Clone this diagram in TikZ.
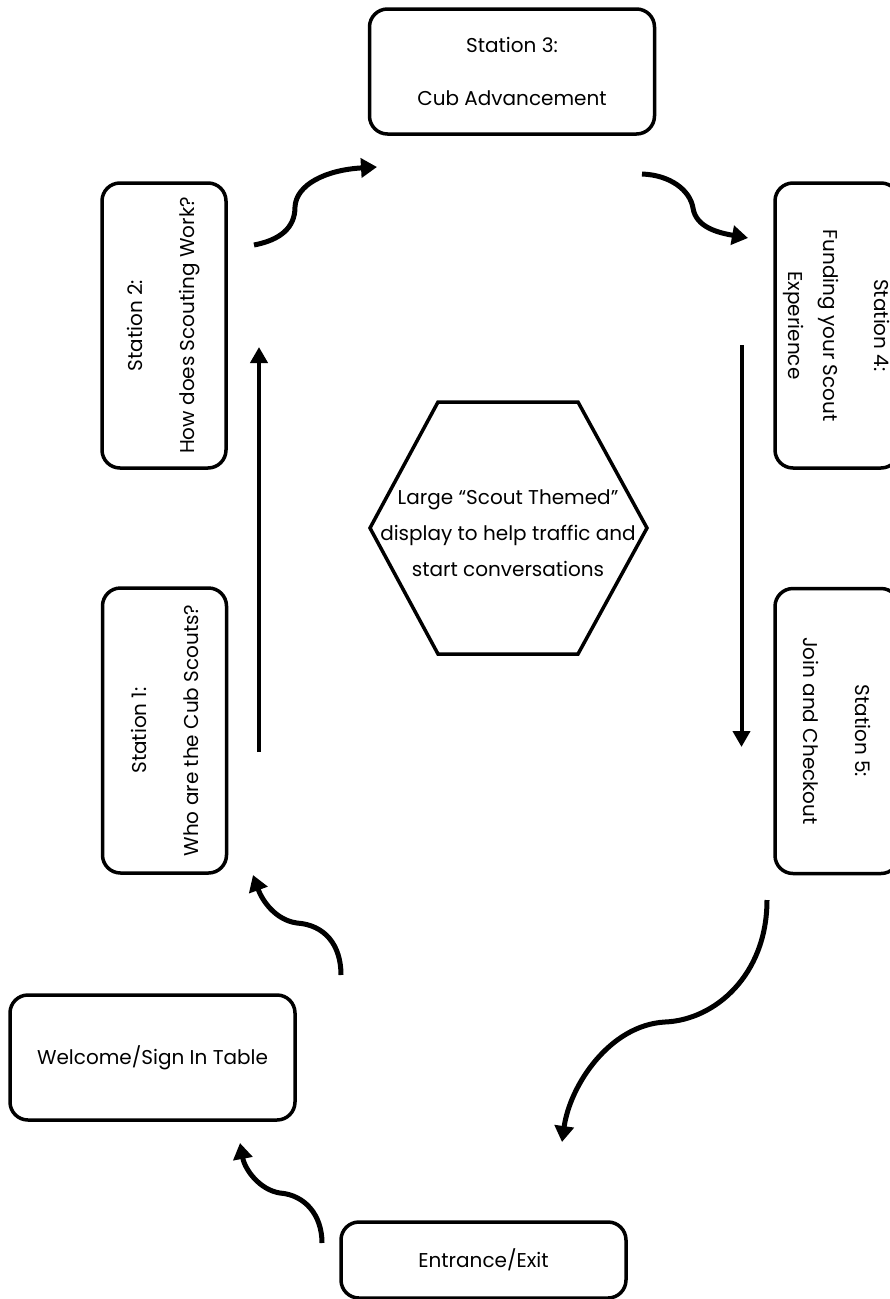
\documentclass[tikz,border=0pt]{standalone}
\usepackage{fontspec}
\setmainfont{Poppins}
\usetikzlibrary{arrows.meta, positioning}

\begin{document}
\begin{tikzpicture}[x=1pt, y=-1pt,
  station/.style={draw, line width=3.5pt, rounded corners=18pt, align=center,
    inner sep=0pt, font=\fontsize{20}{35}\selectfont},
  upright/.style={station, minimum width=285pt, minimum height=125pt},
  sideways/.style={station, minimum width=285pt, minimum height=124pt},
  flow/.style={line width=5pt, -{Triangle[length=16pt, width=19pt]}},
  straight/.style={line width=4pt, -{Triangle[length=16pt, width=17pt]}}]
  \useasboundingbox (0,0) rectangle (890,1299);

  % stations
  \node[upright] (station3) at (512,71.5) {Station 3:\\[18pt]Cub Advancement};
  \node[sideways, rotate=90] (station2) at (164,325.5) {Station 2:\\[17pt]How does Scouting Work?};
  \node[sideways, rotate=90] (station1) at (164.5,730.5) {Station 1:\\[17pt]Who are the Cub Scouts?};
  \node[sideways, rotate=-90] (station4) at (837,325.5) {Station 4:\\[16pt]Funding your Scout\\Experience};
  \node[sideways, rotate=-90] (station5) at (837,731) {Station 5:\\[17pt]Join and Checkout};
  \node[upright] (welcome) at (152.5,1057.5) {Welcome/Sign In Table};
  \node[upright, minimum height=76pt] (entrance) at (483.5,1260) {Entrance/Exit};

  % centre display
  \node[align=center, font=\fontsize{20}{36}\selectfont] (display) at (508,533)
    {Large “Scout Themed”\\display to help traffic and\\start conversations};
  \draw[line width=3.5pt] (438,402) -- (578,402) -- (647,528) -- (578,654)
    -- (438,654) -- (370,528) -- cycle;

  % arrow ends
  \coordinate (s2out) at (254,245);
  \coordinate (s3in) at (377,167);
  \coordinate (s3out) at (642,174);
  \coordinate (s4in) at (748,238);
  \coordinate (s4out) at (741.5,345);
  \coordinate (s5in) at (741.5,747);
  \coordinate (s5out) at (767,900);
  \coordinate (exitin) at (562,1142);
  \coordinate (entryout) at (322,1243);
  \coordinate (welcomein) at (240,1143);
  \coordinate (welcomeout) at (341,975);
  \coordinate (s1in) at (253,875);
  \coordinate (s1out) at (259,752);
  \coordinate (s2in) at (259,347);

  \draw[flow] (s2out) .. controls (280,240) and (295,228) .. (295,207)
    .. controls (296,185) and (325,170) .. (s3in);
  \draw[flow] (s3out) .. controls (670,175) and (690,190) .. (693,208)
    .. controls (696,228) and (720,233) .. (s4in);
  \draw[straight] (s4out) -- (s5in);
  \draw[flow] (s5out) .. controls (767,975) and (715,1020) .. (665,1022)
    .. controls (610,1025) and (570,1085) .. (exitin);
  \draw[flow] (entryout) .. controls (322,1215) and (305,1195) .. (280,1193)
    .. controls (260,1190) and (245,1170) .. (welcomein);
  \draw[flow] (welcomeout) .. controls (341,945) and (325,925) .. (297,923)
    .. controls (275,920) and (262,900) .. (s1in);
  \draw[straight] (s1out) -- (s2in);
\end{tikzpicture}
\end{document}
